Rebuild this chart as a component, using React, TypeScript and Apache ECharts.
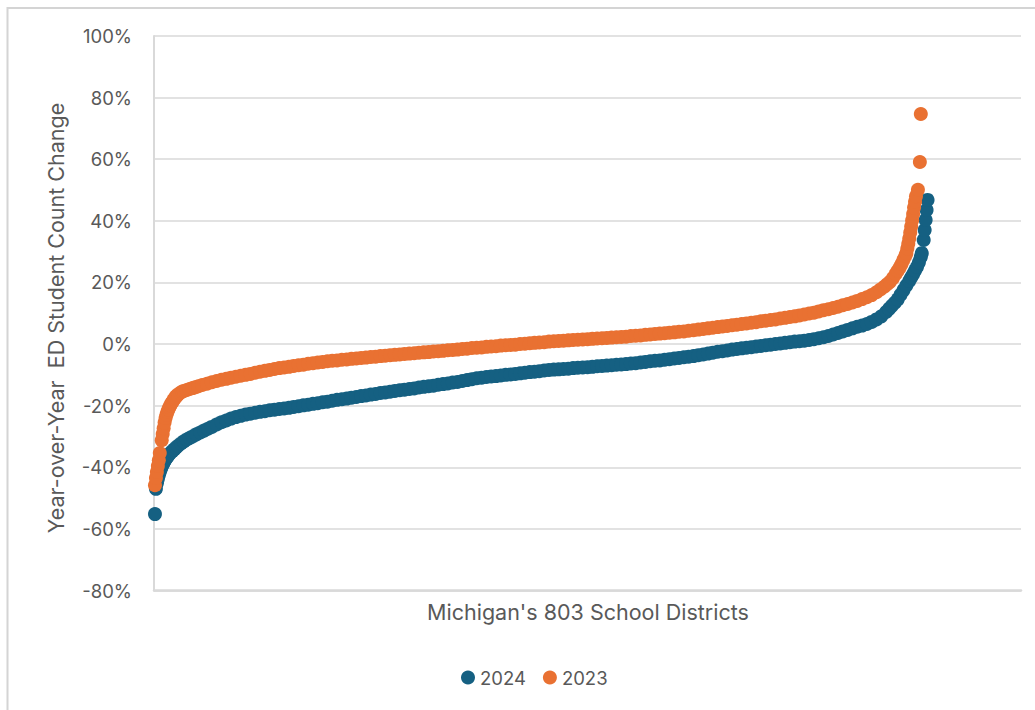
import React, { useEffect, useRef } from "react";
import * as echarts from "echarts";

const FONT = "Inter, 'Open Sans', 'Liberation Sans', sans-serif";
const TEXT_COLOR = "#595959";
const GRID_COLOR = "#d9d9d9";

const seriesNames = ["2024", "2023"];
const seriesColors = ["#156082", "#E97132"];

const yMin = -80;
const yMax = 100;
const yStep = 20;

const xTitle = "Michigan's 803 School Districts";
const yTitle = "Year-over-Year  ED Student Count Change";

// [district rank (sorted by change), year-over-year change in %]
const change2024: [number, number][] = [
  [1, -55.2], [2, -47.0], [3, -45.2], [4, -43.8], [5, -42.6], [6, -41.5], [7, -40.6], [8, -39.8],
  [9, -39.1], [10, -38.5], [11, -37.9], [12, -37.4], [13, -36.9], [14, -36.5], [15, -36.1],
  [17, -35.4], [19, -34.8], [21, -34.2], [23, -33.6], [25, -33.0], [28, -32.3], [31, -31.6],
  [34, -31.0], [37, -30.5], [40, -30.0], [44, -29.3], [48, -28.7], [52, -28.1], [56, -27.5],
  [60, -26.9], [65, -26.1], [70, -25.4], [75, -24.8], [80, -24.2], [85, -23.7], [90, -23.3],
  [95, -22.9], [100, -22.6], [105, -22.3], [110, -22.0], [115, -21.8], [120, -21.5], [125, -21.3],
  [130, -21.1], [135, -20.9], [140, -20.7], [145, -20.4], [150, -20.2], [155, -19.9], [160, -19.7],
  [165, -19.4], [170, -19.2], [175, -18.9], [180, -18.7], [185, -18.4], [190, -18.1], [195, -17.9],
  [200, -17.7], [205, -17.4], [210, -17.2], [215, -16.9], [220, -16.7], [225, -16.4], [230, -16.2],
  [235, -15.9], [240, -15.7], [245, -15.5], [250, -15.2], [255, -15.0], [260, -14.8], [265, -14.6],
  [270, -14.4], [275, -14.1], [280, -13.9], [285, -13.7], [290, -13.5], [295, -13.2], [300, -13.0],
  [305, -12.8], [310, -12.5], [315, -12.3], [320, -12.0], [325, -11.7], [330, -11.4], [335, -11.1],
  [340, -10.9], [345, -10.7], [350, -10.5], [355, -10.4], [360, -10.2], [365, -10.0], [370, -9.9],
  [375, -9.7], [380, -9.5], [385, -9.3], [390, -9.1], [395, -9.0], [400, -8.8], [405, -8.6],
  [410, -8.4], [415, -8.3], [420, -8.2], [425, -8.1], [430, -8.0], [435, -7.8], [440, -7.7],
  [445, -7.6], [450, -7.5], [455, -7.4], [460, -7.2], [465, -7.1], [470, -7.0], [475, -6.9],
  [480, -6.7], [485, -6.6], [490, -6.5], [495, -6.3], [500, -6.2], [505, -6.0], [510, -5.8],
  [515, -5.6], [520, -5.4], [525, -5.3], [530, -5.1], [535, -4.9], [540, -4.7], [545, -4.5],
  [550, -4.3], [555, -4.1], [560, -3.9], [565, -3.6], [570, -3.4], [575, -3.1], [580, -2.8],
  [585, -2.5], [590, -2.3], [595, -2.1], [600, -1.8], [605, -1.6], [610, -1.4], [615, -1.2],
  [620, -1.0], [625, -0.8], [630, -0.6], [635, -0.4], [640, -0.2], [645, 0.0], [650, 0.2],
  [655, 0.4], [660, 0.6], [665, 0.8], [670, 0.9], [675, 1.1], [680, 1.3], [685, 1.6], [690, 1.9],
  [695, 2.2], [700, 2.6], [705, 3.1], [710, 3.6], [715, 4.1], [720, 4.6], [725, 5.1], [730, 5.6],
  [735, 6.0], [740, 6.5], [745, 7.2], [750, 8.0], [755, 9.0], [760, 10.4], [763, 11.4], [766, 12.4],
  [769, 13.4], [772, 14.5], [775, 16.0], [778, 17.5], [781, 19.0], [784, 20.5], [786, 21.6],
  [788, 22.7], [790, 23.9], [792, 25.0], [794, 26.5], [796, 28.3], [797, 29.5], [799, 33.8],
  [800, 37.0], [801, 40.3], [802, 43.5], [803, 46.8],
];

const change2023: [number, number][] = [
  [1, -45.8], [2, -43.5], [3, -41.5], [4, -39.6], [5, -37.7], [6, -35.4], [8, -31.2], [9, -29.2],
  [10, -27.3], [11, -25.5], [12, -24.0], [13, -22.9], [14, -22.0], [15, -21.2], [16, -20.5],
  [17, -19.9], [18, -19.3], [19, -18.8], [20, -18.3], [21, -17.8], [22, -17.4], [23, -17.0],
  [24, -16.7], [25, -16.4], [27, -15.9], [29, -15.5], [31, -15.2], [34, -14.9], [37, -14.6],
  [40, -14.3], [43, -14.0], [46, -13.7], [50, -13.3], [55, -12.9], [60, -12.4], [65, -12.0],
  [70, -11.6], [75, -11.3], [80, -10.9], [85, -10.6], [90, -10.3], [95, -10.0], [100, -9.7],
  [105, -9.3], [110, -9.0], [115, -8.7], [120, -8.4], [125, -8.1], [130, -7.8], [135, -7.6],
  [140, -7.4], [145, -7.1], [150, -6.9], [155, -6.7], [160, -6.4], [165, -6.2], [170, -6.0],
  [175, -5.8], [180, -5.6], [185, -5.4], [190, -5.3], [195, -5.1], [200, -5.0], [205, -4.8],
  [210, -4.7], [215, -4.5], [220, -4.4], [225, -4.2], [230, -4.1], [235, -3.9], [240, -3.8],
  [245, -3.6], [250, -3.5], [255, -3.4], [260, -3.2], [265, -3.1], [270, -3.0], [275, -2.8],
  [280, -2.7], [285, -2.6], [290, -2.4], [295, -2.3], [300, -2.2], [305, -2.0], [310, -1.9],
  [315, -1.8], [320, -1.6], [325, -1.5], [330, -1.3], [335, -1.2], [340, -1.1], [345, -0.9],
  [350, -0.8], [355, -0.7], [360, -0.5], [365, -0.4], [370, -0.3], [375, -0.2], [380, 0.0],
  [385, 0.1], [390, 0.3], [395, 0.4], [400, 0.5], [405, 0.6], [410, 0.8], [415, 0.9], [420, 1.0],
  [425, 1.1], [430, 1.2], [435, 1.3], [440, 1.4], [445, 1.5], [450, 1.6], [455, 1.7], [460, 1.8],
  [465, 1.9], [470, 2.0], [475, 2.1], [480, 2.2], [485, 2.3], [490, 2.4], [495, 2.6], [500, 2.7],
  [505, 2.8], [510, 3.0], [515, 3.1], [520, 3.3], [525, 3.4], [530, 3.5], [535, 3.7], [540, 3.8],
  [545, 4.0], [550, 4.1], [555, 4.3], [560, 4.5], [565, 4.7], [570, 4.9], [575, 5.1], [580, 5.3],
  [585, 5.5], [590, 5.7], [595, 5.9], [600, 6.1], [605, 6.3], [610, 6.5], [615, 6.7], [620, 6.9],
  [625, 7.1], [630, 7.4], [635, 7.6], [640, 7.8], [645, 8.0], [650, 8.3], [655, 8.5], [660, 8.8],
  [665, 9.0], [670, 9.3], [675, 9.6], [680, 9.9], [685, 10.2], [690, 10.6], [695, 11.0],
  [700, 11.3], [705, 11.7], [710, 12.1], [715, 12.6], [720, 13.0], [725, 13.5], [730, 14.0],
  [735, 14.6], [740, 15.2], [745, 15.9], [750, 16.8], [754, 17.7], [758, 18.6], [761, 19.4],
  [764, 20.2], [767, 21.4], [770, 22.8], [772, 23.8], [774, 24.8], [776, 26.0], [778, 27.4],
  [780, 28.7], [781, 29.5], [782, 31.0], [783, 32.6], [784, 34.3], [785, 36.2], [786, 38.2],
  [787, 40.2], [788, 42.2], [789, 44.3], [790, 46.2], [791, 48.0], [793, 50.1], [795, 59.1],
  [796, 74.7],
];

const seriesData = [change2024, change2023];

export default function App() {
  const ref = useRef<HTMLDivElement>(null);

  useEffect(() => {
    if (!ref.current) return;
    const chart = echarts.init(ref.current, null, { renderer: "svg" });

    chart.setOption({
      animation: false,
      backgroundColor: "#ffffff",
      textStyle: { fontFamily: FONT },
      grid: { left: 154, right: 14, top: 36, bottom: 119.5, containLabel: false },
      xAxis: {
        type: "value",
        min: 0,
        max: 900,
        axisLabel: { show: false },
        axisTick: { show: false },
        splitLine: { show: false },
        axisLine: { show: true, onZero: false, lineStyle: { color: GRID_COLOR, width: 2.5 } },
      },
      yAxis: {
        type: "value",
        min: yMin,
        max: yMax,
        interval: yStep,
        axisLabel: {
          formatter: "{value}%",
          fontSize: 18.5,
          color: TEXT_COLOR,
          fontFamily: FONT,
          margin: 22,
        },
        axisLine: { show: true, lineStyle: { color: GRID_COLOR, width: 2 } },
        axisTick: { show: false },
        splitLine: { show: true, lineStyle: { color: GRID_COLOR, width: 1.5 } },
      },
      legend: {
        data: seriesNames,
        icon: "circle",
        left: 456,
        top: 663,
        itemWidth: 14,
        itemHeight: 14,
        itemGap: 17,
        textStyle: { fontSize: 18.5, color: TEXT_COLOR, fontFamily: FONT },
      },
      series: seriesNames.map((name, i) => ({
        name,
        type: "scatter",
        data: seriesData[i],
        symbol: "circle",
        symbolSize: 14,
        itemStyle: { color: seriesColors[i], opacity: 1 },
        emphasis: { disabled: true },
      })),
      graphic: [
        {
          type: "rect",
          shape: { x: 7.5, y: 8, width: 1100, height: 800 },
          style: { fill: "none", stroke: "#d4d4d4", lineWidth: 2 },
          silent: true,
        },
        {
          type: "text",
          x: 56,
          y: 318,
          rotation: Math.PI / 2,
          style: {
            text: yTitle,
            fontSize: 21.5,
            fontFamily: FONT,
            fill: TEXT_COLOR,
            align: "center",
            verticalAlign: "middle",
          },
        },
        {
          type: "text",
          x: 588,
          y: 612,
          style: {
            text: xTitle,
            fontSize: 21.5,
            fontFamily: FONT,
            fill: TEXT_COLOR,
            align: "center",
            verticalAlign: "middle",
          },
        },
      ],
    });

    return () => chart.dispose();
  }, []);

  return (
    <div
      ref={ref}
      style={{ position: "fixed", left: 0, top: 0, width: 1035, height: 710, background: "#fff" }}
    />
  );
}
